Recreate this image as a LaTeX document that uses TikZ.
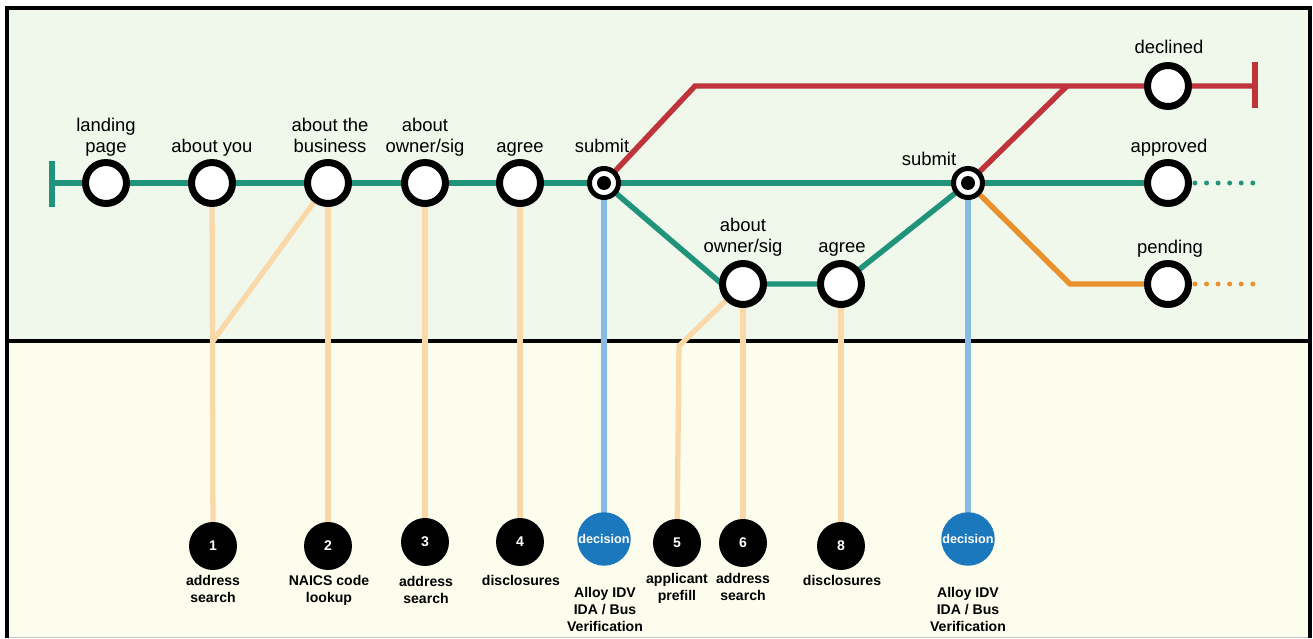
\documentclass[tikz,border=0pt]{standalone}
\usepackage{fontspec}
\setmainfont{Liberation Sans}
\definecolor{metrogreen}{RGB}{31,148,122}
\definecolor{metrored}{RGB}{191,52,58}
\definecolor{metroorange}{RGB}{232,145,45}
\definecolor{peach}{RGB}{250,216,168}
\definecolor{skyblue}{RGB}{134,187,227}
\definecolor{decblue}{RGB}{28,120,188}
\definecolor{topbg}{RGB}{240,248,236}
\definecolor{lowbg}{RGB}{253,253,238}
\pgfdeclarelayer{back}
\pgfsetlayers{back,main}
\tikzstyle{station}=[circle,draw=black,fill=white,line width=3.97pt,minimum size=0.82cm,inner sep=0pt]
\tikzstyle{hub}=[circle,draw=black,fill=white,line width=2.83pt,minimum size=0.58cm,inner sep=0pt,path picture={\fill[black] (path picture bounding box.center) circle (0.14cm);}]
\tikzstyle{stopdot}=[circle,fill=black,minimum size=0.96cm,inner sep=0pt,text=white,font=\fontsize{8}{9}\selectfont\bfseries]
\tikzstyle{decision}=[stopdot,fill=decblue,minimum size=1.07cm,font=\fontsize{7.2}{8}\selectfont\bfseries]
\tikzstyle{lbl}=[align=center,inner sep=0pt,anchor=south,text depth=0pt,font=\fontsize{10.5}{12}\selectfont]
\tikzstyle{note}=[lbl,font=\fontsize{8}{9.6}\selectfont\bfseries]
\tikzstyle{track}=[line width=3.1pt]
\tikzstyle{feed}=[peach,line width=3pt]
\tikzstyle{verify}=[skyblue,line width=3pt]
\tikzstyle{trail}=[line width=2.83pt,line cap=round,dash pattern=on 0pt off 6.58pt,shorten <=1.7pt]

\begin{document}
\begin{tikzpicture}[x=0.02cm,y=-0.02cm]
    \useasboundingbox (0,0) rectangle (1313,639);
    \node[station] (LP) at (106,183) {};
    \node[station] (AY) at (212,183) {};
    \node[station] (AB) at (328,183) {};
    \node[station] (AO) at (425,183) {};
    \node[station] (AG) at (520,183) {};
    \node[hub] (S1) at (604,183) {};
    \node[station] (O2) at (743,284) {};
    \node[station] (A2) at (841,284) {};
    \node[hub] (S2) at (968,183) {};
    \node[station] (DC) at (1168,86) {};
    \node[station] (AP) at (1168,183) {};
    \node[station] (PD) at (1168,284) {};
    \node[lbl] (LPt) at (106,153) {landing\\page};
    \node[lbl] (AYt) at (212,153) {about you};
    \node[lbl] (ABt) at (330,153) {about the\\business};
    \node[lbl] (AOt) at (425,153) {about\\owner/sig};
    \node[lbl] (AGt) at (520,153) {agree};
    \node[lbl] (S1t) at (602,153) {submit};
    \node[lbl] (O2t) at (743,253) {about\\owner/sig};
    \node[lbl] (A2t) at (842,253) {agree};
    \node[lbl] (S2t) at (929,166) {submit};
    \node[lbl] (DCt) at (1169,54) {declined};
    \node[lbl] (APt) at (1169,153) {approved};
    \node[lbl] (PDt) at (1170,254) {pending};
    \node[stopdot] (B1) at (213,546) {1};
    \node[stopdot] (B2) at (328,546) {2};
    \node[stopdot] (B3) at (425,542) {3};
    \node[stopdot] (B4) at (520,542) {4};
    \node[decision] (D1) at (604,539) {decision};
    \node[stopdot] (B5) at (677,543) {5};
    \node[stopdot] (B6) at (743,543) {6};
    \node[stopdot] (B8) at (841,546) {8};
    \node[decision] (D2) at (968,539) {decision};
    \node[note] (B1t) at (213,603) {address\\search};
    \node[note] (B2t) at (329,603) {NAICS code\\lookup};
    \node[note] (B3t) at (426,604) {address\\search};
    \node[note] (B4t) at (521,586) {disclosures};
    \node[note] (D1t) at (605,632) {Alloy IDV\\IDA / Bus\\Verification};
    \node[note] (B5t) at (677,601) {applicant\\prefill};
    \node[note] (B6t) at (743,601) {address\\search};
    \node[note] (B8t) at (842,586) {disclosures};
    \node[note] (D2t) at (968,632) {Alloy IDV\\IDA / Bus\\Verification};
    \coordinate (G0) at (52,183);
    \coordinate (G0a) at (52,161);
    \coordinate (G0b) at (52,207);
    \coordinate (Gend) at (1254,183);
    \coordinate (L1) at (722,284);
    \coordinate (R1) at (695,86);
    \coordinate (R2) at (1067,86);
    \coordinate (Rend) at (1255,86);
    \coordinate (Rend1) at (1255,62);
    \coordinate (Rend2) at (1255,108);
    \coordinate (Q1) at (1070,284);
    \coordinate (Qend) at (1254,284);
    \coordinate (J1) at (213,341);
    \coordinate (K5) at (679,346);
    \begin{pgfonlayer}{back}
    \fill[white] (0,0) rectangle (1313,639);
    \fill[topbg] (7,8) rectangle (1310,341);
    \fill[lowbg] (7,341) rectangle (1310,637);
    \draw[gray!45,line width=0.85pt] (7,637.5) -- (1310,637.5);
    \draw[line width=2.27pt] (7,638) -- (7,8) -- (1310,8) -- (1310,638);
    \draw[line width=2.27pt] (7,341) -- (1310,341);
    \draw[feed] (AY.center) -- (B1.center);
    \draw[feed] (AB.center) -- (J1);
    \draw[feed] (AB.center) -- (B2.center);
    \draw[feed] (AO.center) -- (B3.center);
    \draw[feed] (AG.center) -- (B4.center);
    \draw[feed,line join=round] (O2.center) -- (K5) -- (B5.center);
    \draw[feed] (O2.center) -- (B6.center);
    \draw[feed] (A2.center) -- (B8.center);
    \draw[verify] (S1.center) -- (D1.center);
    \draw[verify] (S2.center) -- (D2.center);
    \draw[track,metrogreen] (G0a) -- (G0b);
    \draw[track,metrogreen] (G0) -- (LP.center) -- (AY.center) -- (AB.center) -- (AO.center) -- (AG.center) -- (S1.center) -- (S2.center) -- (AP.center);
    \draw[track,metrogreen] (S1.center) -- (L1) -- (O2.center) -- (A2.center) -- (S2.center);
    \draw[trail,metrogreen] (AP) -- (Gend);
    \draw[track,metrored] (S1.center) -- (R1) -- (DC.center) -- (Rend);
    \draw[track,metrored] (S2.center) -- (R2);
    \draw[track,metrored] (Rend1) -- (Rend2);
    \draw[track,metroorange] (S2.center) -- (Q1) -- (PD.center);
    \draw[trail,metroorange] (PD) -- (Qend);
    \end{pgfonlayer}
\end{tikzpicture}
\end{document}
